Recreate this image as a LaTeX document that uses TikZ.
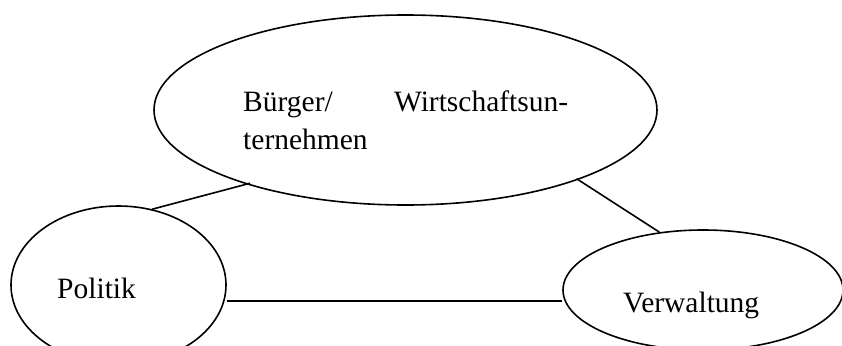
\documentclass[tikz,border=0pt]{standalone}
\usepackage{fontspec}
\setmainfont{Liberation Serif}
\usetikzlibrary{shapes.geometric}

\tikzset{
  actor/.style={ellipse, draw, line width=1.6pt, inner sep=0pt},
  link/.style={draw, line width=1.6pt},
  label/.style={inner sep=0pt, font=\fontsize{29.5}{38.5}\selectfont}
}

\begin{document}
\begin{tikzpicture}[x=1pt, y=-1pt]
  \useasboundingbox (0,0) rectangle (842,345);

  % the three actors
  \node[actor, minimum width=503pt, minimum height=190pt] (buerger) at (405.5,110) {};
  \node[actor, minimum width=215pt, minimum height=158pt] (politik) at (118.5,285) {};
  \node[actor, minimum width=280pt, minimum height=120pt] (verwaltung) at (703,290) {};

  % labels
  \node[label, anchor=base west] (tbuerger) at (243,111)
    {\begin{tabular}[t]{@{}p{325pt}@{}}B\"urger/\hfill Wirtschaftsun-\\ternehmen\end{tabular}};
  \node[label, anchor=base west] (tpolitik) at (57,298) {Politik};
  \node[label, anchor=base west] (tverwaltung) at (623,312) {Verwaltung};

  % relations between the actors
  \coordinate (pv) at (0,301);
  \draw[link, shorten >=-4pt] (politik.66) -- (buerger.205);
  \draw[link, shorten <=-2pt] (buerger.338) -- (verwaltung.127);
  \draw[link] (politik.east |- pv) -- (verwaltung.west |- pv);
\end{tikzpicture}
\end{document}
